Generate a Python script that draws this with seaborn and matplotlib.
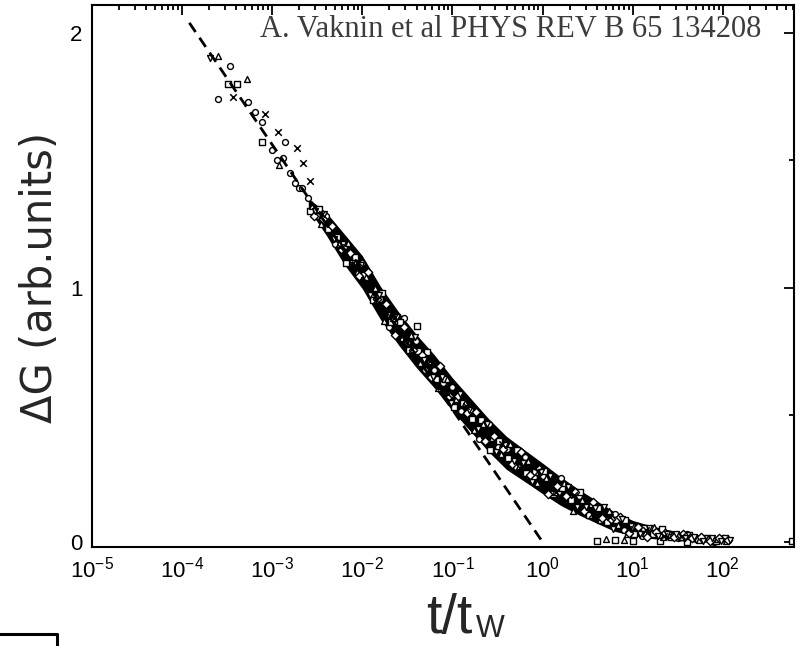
import numpy as np
import pandas as pd
import seaborn as sns
import matplotlib
matplotlib.use("Agg")
import matplotlib.pyplot as plt
from matplotlib.lines import Line2D
from matplotlib.ticker import LogLocator, FixedLocator, NullFormatter

# ---------------- data: log10(t/tw) and dG (arb. units) ----------------
circ_lx = [-3.47, -3.60, -3.27, -3.19, -3.11, -3.00, -2.95, -2.88, -2.86, -2.80, -2.75, -2.70, -2.67, -1.54,
           -2.6, -2.5, -2.4, -2.3, -2.2, -2.1, -2.0, -1.9, -1.8, -1.7, -1.6, -1.5, -1.4, -1.3, -1.2, -1.1,
           -1.0, -0.9, -0.8, -0.7, -0.6, -0.5, -0.4, -0.3, -0.2, -0.1, 0.0, 0.1, 0.2, 0.3, 0.4, 0.5, 0.6,
           0.7, 0.8, 0.9, 1.0, 1.1, 1.2, 1.3, 1.4, 1.5, 1.6, 1.7, 1.8, 1.9, 2.0]
circ_g = [1.87, 1.74, 1.73, 1.69, 1.65, 1.54, 1.50, 1.51, 1.57, 1.45, 1.41, 1.39, 1.39, 0.88,
          1.35, 1.28, 1.28, 1.17, 1.16, 1.095, 1.095, 0.965, 0.955, 0.845, 0.865, 0.78, 0.79, 0.675, 0.675,
          0.625, 0.61, 0.515, 0.52, 0.405, 0.465, 0.375, 0.365, 0.295, 0.335, 0.255, 0.26, 0.185, 0.25,
          0.173, 0.182, 0.109, 0.130, 0.086, 0.112, 0.046, 0.058, 0.024, 0.054, 0.028, 0.033, 0.016,
          0.030, 0.011, 0.015, 0.001, 0.015]

sq_lx = [-3.39, -3.11, -3.49, -1.39, 0.6, 0.8, 1.0, 1.3, 1.6, 2.77,
         -2.58, -2.48, -2.38, -2.28, -2.18, -2.08, -1.98, -1.88, -1.78, -1.68, -1.58, -1.48, -1.38,
         -1.28, -1.18, -1.08, -0.98, -0.88, -0.78, -0.68, -0.58, -0.48, -0.38, -0.28, -0.18, -0.08,
         0.02, 0.12, 0.22, 0.32, 0.42, 0.52, 0.62, 0.72, 0.82, 0.92, 1.02, 1.12, 1.22, 1.32, 1.42,
         1.52, 1.62, 1.72, 1.82, 1.92, 2.02]
sq_g = [1.80, 1.57, 1.80, 0.85, 0.004, 0.006, 0.003, 0.005, 0.002, 0.005,
        1.30, 1.31, 1.23, 1.20, 1.095, 1.12, 1.05, 0.95, 0.98, 0.865, 0.865, 0.755, 0.75, 0.745, 0.64,
        0.64, 0.53, 0.545, 0.485, 0.478, 0.363, 0.398, 0.33, 0.36, 0.27, 0.275, 0.28, 0.19, 0.211,
        0.164, 0.198, 0.105, 0.134, 0.078, 0.085, 0.088, 0.033, 0.055, 0.031, 0.050, 0.021, 0.023,
        0.028, 0.013, 0.017, 0.004, 0.014]

tri_lx = [-3.60, -3.28, -2.93, 0.7, 0.9,
          -2.56, -2.46, -2.36, -2.26, -2.16, -2.06, -1.96, -1.86, -1.76, -1.66, -1.56, -1.46, -1.36,
          -1.26, -1.16, -1.06, -0.96, -0.86, -0.76, -0.66, -0.56, -0.46, -0.36, -0.26, -0.16, -0.06,
          0.04, 0.14, 0.24, 0.34, 0.44, 0.54, 0.64, 0.74, 0.84, 0.94, 1.04, 1.14, 1.24, 1.34, 1.44,
          1.54, 1.64, 1.74, 1.84, 1.94, 2.04]
tri_g = [1.91, 1.82, 1.48, 0.010, 0.008,
         1.32, 1.25, 1.25, 1.17, 1.175, 1.06, 1.04, 1.00, 0.87, 0.88, 0.80, 0.815, 0.705, 0.71, 0.605,
         0.64, 0.56, 0.545, 0.44, 0.465, 0.41, 0.345, 0.385, 0.30, 0.32, 0.23, 0.25, 0.195, 0.23, 0.12,
         0.165, 0.15, 0.086, 0.12, 0.066, 0.030, 0.061, 0.036, 0.058, 0.019, 0.028, 0.020, 0.025,
         0.007, 0.016, 0.011, 0.003]

dia_lx = [-2.54, -2.44, -2.34, -2.24, -2.14, -2.04, -1.94, -1.84, -1.74, -1.64, -1.54, -1.44, -1.34,
          -1.24, -1.14, -1.04, -0.94, -0.84, -0.74, -0.64, -0.54, -0.44, -0.34, -0.24, -0.14, -0.04,
          0.06, 0.16, 0.26, 0.36, 0.46, 0.56, 0.66, 0.76, 0.86, 0.96, 1.06, 1.16, 1.26, 1.36, 1.46,
          1.56, 1.66, 1.76, 1.86, 1.96, 2.06]
dia_g = [1.28, 1.27, 1.24, 1.15, 1.135, 1.045, 1.06, 0.955, 0.935, 0.815, 0.845, 0.755, 0.735, 0.65,
         0.69, 0.575, 0.575, 0.505, 0.51, 0.395, 0.415, 0.365, 0.305, 0.355, 0.265, 0.285, 0.19, 0.22,
         0.182, 0.195, 0.12, 0.158, 0.094, 0.091, 0.100, 0.035, 0.060, 0.020, 0.040, 0.036, 0.020,
         0.031, 0.015, 0.018, 0.004, 0.017, 0.007]

dn_lx = [-3.69,
         -2.52, -2.42, -2.32, -2.22, -2.12, -2.02, -1.92, -1.82, -1.72, -1.62, -1.52, -1.42, -1.32,
         -1.22, -1.12, -1.02, -0.92, -0.82, -0.72, -0.62, -0.52, -0.42, -0.32, -0.22, -0.12, -0.02,
         0.08, 0.18, 0.28, 0.38, 0.48, 0.58, 0.68, 0.78, 0.88, 0.98, 1.08, 1.18, 1.28, 1.38, 1.48,
         1.58, 1.68, 1.78, 1.88, 1.98, 2.08]
dn_g = [1.90,
        1.30, 1.29, 1.19, 1.17, 1.095, 1.09, 0.97, 0.97, 0.89, 0.885, 0.78, 0.805, 0.715, 0.65, 0.65,
        0.545, 0.58, 0.52, 0.445, 0.465, 0.355, 0.38, 0.32, 0.31, 0.235, 0.275, 0.26, 0.19, 0.215,
        0.136, 0.136, 0.134, 0.138, 0.052, 0.089, 0.062, 0.033, 0.057, 0.024, 0.030, 0.031, 0.014,
        0.021, 0.004, 0.017, 0.005, 0.009]

x_lx = [-3.43, -3.08, -2.94, -2.72, -2.66, -2.58, -2.45, -2.25, -2.05, -1.85, -1.65, -1.45, -1.25,
        -1.05, -0.85, -0.65, -0.45, -0.25, -0.05, 0.15, 0.35, 0.55, 0.75, 0.95, 1.15, 1.35, 1.55]
x_g = [1.75, 1.68, 1.61, 1.55, 1.49, 1.42, 1.29, 1.16, 1.10, 0.95, 0.88, 0.76, 0.71, 0.58, 0.535,
       0.42, 0.385, 0.29, 0.28, 0.195, 0.185, 0.11, 0.10, 0.05, 0.048, 0.024, 0.024]

# upper / lower edges of the dense, overlapping data cloud
band_lx = [-2.6, -2.4, -2.2, -2.0, -1.8, -1.6, -1.4, -1.2, -1.0, -0.8, -0.6, -0.4, -0.2, 0.0,
           0.2, 0.4, 0.6, 0.8, 1.0, 1.2, 1.4, 1.6, 1.8, 2.0, 2.06]
band_hi = [1.35, 1.295, 1.21, 1.125, 1.005, 0.905, 0.815, 0.735, 0.645, 0.565, 0.485, 0.415, 0.362,
           0.31, 0.256, 0.207, 0.162, 0.118, 0.085, 0.064, 0.048, 0.035, 0.026, 0.018, 0.014]
band_lo = [1.31, 1.205, 1.09, 0.995, 0.875, 0.775, 0.685, 0.605, 0.515, 0.435, 0.355, 0.285, 0.238,
           0.19, 0.144, 0.107, 0.074, 0.042, 0.025, 0.014, 0.008, 0.003, 0.000, 0.000, 0.002]

# dashed power-law guide
fit_lx = [-3.92, 0.0]
fit_g = [2.04, 0.0]

x_ticks_exp = [-5, -4, -3, -2, -1, 0, 1, 2]
y_ticks = [0, 1, 2]
y_minor = [0.5, 1.5]
citation = "A. Vaknin et al PHYS REV B 65 134208"

# ---------------- style ----------------
sns.set_theme(style="white")
plt.rcParams["font.family"] = ["Liberation Sans", "DejaVu Sans"]
plt.rcParams["mathtext.fontset"] = "custom"
plt.rcParams["mathtext.rm"] = "Liberation Sans"
plt.rcParams["mathtext.it"] = "Liberation Sans:italic"
plt.rcParams["mathtext.bf"] = "Liberation Sans:bold"
plt.rcParams["axes.unicode_minus"] = False

W, H = 802, 646
fig = plt.figure(figsize=(W / 100, H / 100), dpi=100)
fig.patch.set_facecolor("white")
ax = fig.add_axes([92 / W, 99 / H, 702 / W, 542 / H])
ax.set_facecolor("white")

# dense cloud (min/max of the overlapping points at each time)
dfb = pd.DataFrame({"t": np.power(10.0, band_lx + band_lx), "g": band_hi + band_lo})
sns.lineplot(data=dfb, x="t", y="g", estimator="mean", errorbar=("pi", 100), color="black",
             lw=0, err_kws={"alpha": 1.0, "linewidth": 0}, ax=ax, zorder=1, legend=False)

series = [
    (circ_lx, circ_g, "o"),
    (sq_lx, sq_g, "s"),
    (tri_lx, tri_g, "^"),
    (dia_lx, dia_g, "D"),
    (dn_lx, dn_g, "v"),
]
for lx, g, m in series:
    df = pd.DataFrame({"t": np.power(10.0, lx), "g": g})
    sns.scatterplot(data=df, x="t", y="g", marker=m, s=18, facecolor="white",
                    edgecolor="black", linewidth=1.0, ax=ax, zorder=2, legend=False)

dfx = pd.DataFrame({"t": np.power(10.0, x_lx), "g": x_g})
sns.scatterplot(data=dfx, x="t", y="g", marker="x", s=22, color="black",
                linewidth=1.1, ax=ax, zorder=2, legend=False)

dff = pd.DataFrame({"t": np.power(10.0, fit_lx), "g": fit_g})
sns.lineplot(data=dff, x="t", y="g", color="black", lw=2.0, linestyle=(0, (4, 2.5)),
             ax=ax, zorder=3, legend=False)

ax.set_xscale("log")
ax.set_xlim(1e-5, 10 ** 2.79)
ax.set_ylim(-0.0196, 2.11)

ax.xaxis.set_major_locator(FixedLocator([10.0 ** e for e in x_ticks_exp]))
ax.set_xticklabels([rf"$\mathregular{{10^{{{e}}}}}$" for e in x_ticks_exp])
ax.xaxis.set_minor_locator(LogLocator(base=10, subs=np.arange(2, 10), numticks=100))
ax.xaxis.set_minor_formatter(NullFormatter())
ax.yaxis.set_major_locator(FixedLocator(y_ticks))
ax.set_yticklabels([str(v) for v in y_ticks])
ax.yaxis.set_minor_locator(FixedLocator(y_minor))

ax.tick_params(which="both", direction="in", top=True, right=True, colors="black",
               width=1.3, labelsize=16)
ax.tick_params(which="major", length=7, pad=7)
ax.tick_params(which="minor", length=3.5)

for sp in ax.spines.values():
    sp.set_visible(True)
    sp.set_color("black")
    sp.set_linewidth(1.5)

# x label "t/t" with the subscript "W" set beside it
ax.set_xlabel("t/t", fontsize=40)
ax.xaxis.label.set_horizontalalignment("left")
ax.xaxis.label.set_verticalalignment("baseline")
ax.xaxis.set_label_coords((426 - 92) / 702, (646 - 633 - 99) / 542)
fig.text(476 / W, (H - 637) / H, "W", fontsize=22, ha="left", va="baseline")

ax.set_ylabel("ΔG (arb.units)", fontsize=30, family=["DejaVu Sans"])
ax.yaxis.label.set_verticalalignment("center")
ax.yaxis.set_label_coords(-0.074, 0.498)

fig.text(260 / W, (H - 37) / H, citation, fontsize=22, color="#3c3c3c",
         family=["Liberation Serif", "DejaVu Serif"], ha="left", va="baseline")

# small box fragment at the lower-left corner of the image
fig.add_artist(Line2D([0, 57 / W, 57 / W], [12 / H, 12 / H, 0], color="black", lw=2.2,
                      transform=fig.transFigure))

fig.savefig("out.png", dpi=100, facecolor="white")
